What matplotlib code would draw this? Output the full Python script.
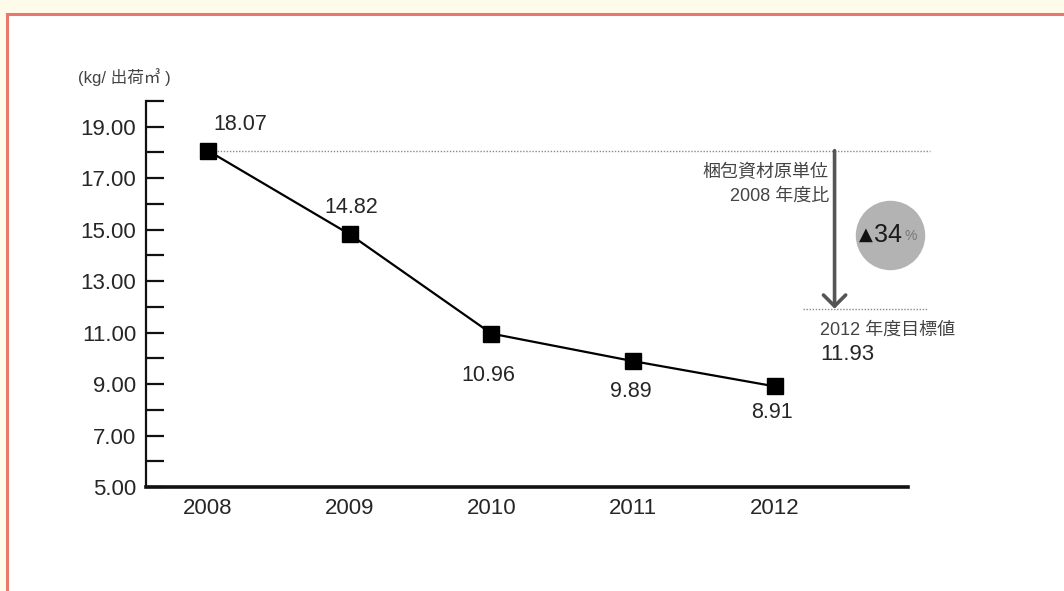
import matplotlib
matplotlib.use("Agg")
import matplotlib.pyplot as plt
from matplotlib.patches import Rectangle

years = [2008, 2009, 2010, 2011, 2012]
values = [18.07, 14.82, 10.96, 9.89, 8.91]
value_labels = ["18.07", "14.82", "10.96", "9.89", "8.91"]
target_value = 11.93
reduction_text = "34"
ytick_values = [5, 7, 9, 11, 13, 15, 17, 19]
unit_label = "(kg/ 出荷㎥ )"
ratio_label = "梱包資材原単位\n2008 年度比"
target_label = "2012 年度目標値"

FAM = ['Liberation Sans', 'Noto Sans CJK JP', 'DejaVu Sans']
plt.rcParams['font.family'] = FAM
TXT = '#262626'

fig = plt.figure(figsize=(10.64, 5.91), dpi=100)
fig.patch.set_facecolor('#fffbea')
# white panel with salmon border
fig.patches.append(Rectangle((7/1064, -0.1), 1.2, 1 - 14/591 + 0.1,
                             transform=fig.transFigure, facecolor='white',
                             edgecolor='#e8776e', linewidth=2.2, zorder=-5))

ax = fig.add_axes([146/1064, 1 - 487/591, 762/1064, 386/591])
ax.set_zorder(2)
ax.set_facecolor('none')
ax.set_xlim(2007.563, 2012.938)
ax.set_ylim(5, 20)

ax.spines['top'].set_visible(False)
ax.spines['right'].set_visible(False)
ax.spines['left'].set_linewidth(1.6)
ax.spines['bottom'].set_linewidth(2.6)
ax.spines['left'].set_color('#111')
ax.spines['bottom'].set_color('#111')

ax.set_yticks(range(5, 21))
ax.set_yticklabels([f"{v:.2f}" if v in ytick_values else "" for v in range(5, 21)])
ax.tick_params(axis='y', direction='in', length=13, width=1.6, color='#111',
               labelsize=16, labelcolor=TXT, pad=7)
ax.set_xticks(years)
ax.set_xticklabels([str(y) for y in years])
ax.tick_params(axis='x', length=0, labelsize=16, labelcolor=TXT, pad=8)

# main line
ax.plot(years, values, color='black', lw=1.6, marker='s', markersize=11,
        markerfacecolor='black', markeredgecolor='black', zorder=5)

# value labels (offsets in points)
offsets = [(23, 19), (1, 19.5), (-2, -30), (-2, -22), (-2, -19)]
for x, v, t, off in zip(years, values, value_labels, offsets):
    ax.annotate(t, (x, v), xytext=off, textcoords='offset points',
                ha='center', va='center', fontsize=15.5, color=TXT)

# reference dotted lines
ax.plot([years[0], 2013.09], [values[0], values[0]], ls=(0, (1, 1.2)),
        color='#8a8a8a', lw=1.0, clip_on=False, zorder=2)
ax.plot([2012.2, 2013.07], [target_value, target_value], ls=(0, (1, 1.2)),
        color='#8a8a8a', lw=1.0, clip_on=False, zorder=2)

# arrow
ax.annotate('', xy=(2012.42, target_value), xytext=(2012.42, values[0]),
            arrowprops=dict(arrowstyle='->,head_length=0.8,head_width=0.8',
                            lw=2.6, color='#555555', shrinkA=0, shrinkB=0),
            annotation_clip=False)

ax.text(2012.38, 16.75, ratio_label, ha='right', va='center', fontsize=13,
        color='#444444', linespacing=1.5)

# grey circle with reduction
ax.plot([2012.811], [14.8], marker='o', markersize=50, color='#b3b3b3',
        markeredgewidth=0, clip_on=False, zorder=3)
ax.text(2012.896, 14.8, reduction_text, ha='right', va='center', fontsize=18,
        color='#1a1a1a', zorder=4, clip_on=False)
ax.text(2012.693, 14.8, "▲", ha='right', va='center', fontsize=13,
        color='#111', zorder=4, family=['DejaVu Sans'], clip_on=False)
ax.text(2012.915, 14.75, "%", ha='left', va='center', fontsize=10,
        color='#777', zorder=4, clip_on=False)

ax.text(2012.32, 11.1, target_label, ha='left', va='center', fontsize=13,
        color='#444444')
ax.text(2012.32, 10.15, f"{target_value:.2f}", ha='left', va='center', fontsize=16,
        color=TXT)

fig.text(78/1064, 1 - 77/591, unit_label, ha='left', va='center', fontsize=12,
         color='#444444')

fig.savefig('out.png', dpi=100, facecolor=fig.get_facecolor())
